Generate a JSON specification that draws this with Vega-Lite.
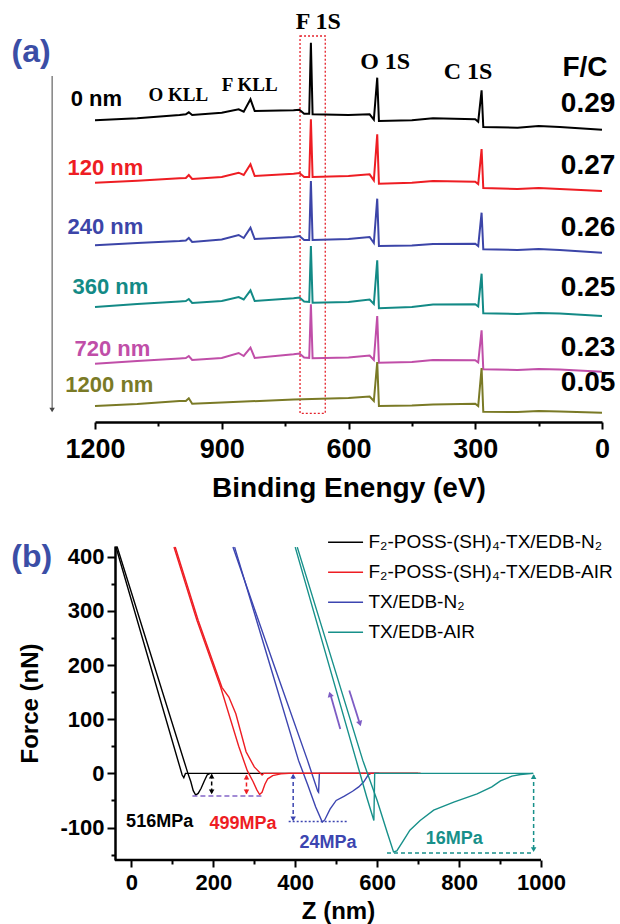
{
"$schema": "https://vega.github.io/schema/vega-lite/v6.json",
"padding": {"left": 11, "top": 9, "right": 2, "bottom": 2},
"background": "white",
"spacing": 31,
"config": {
  "view": {"stroke": null},
  "font": "Liberation Sans",
  "axis": {"grid": false, "domainColor": "#000", "tickColor": "#000", "labelColor": "#000", "titleColor": "#000", "labelFont": "Liberation Sans", "titleFont": "Liberation Sans", "labelFontWeight": "bold", "titleFontWeight": "bold", "domainWidth": 2.5, "tickWidth": 2, "labelOverlap": false, "labelFlush": false}
},
"resolve": {"scale": {"color": "independent"}, "legend": {"color": "independent"}},
"datasets": {
  "spectra": [
    {"d":"0 nm","E":1200,"I":301.7},{"d":"0 nm","E":1100,"I":303.7},{"d":"0 nm","E":1000,"I":307},{"d":"0 nm","E":985,"I":307.7},{"d":"0 nm","E":978,"I":309.7},{"d":"0 nm","E":970,"I":307},{"d":"0 nm","E":900,"I":309.3},{"d":"0 nm","E":860,"I":312.7},{"d":"0 nm","E":848,"I":310.3},{"d":"0 nm","E":832,"I":322.7},{"d":"0 nm","E":822,"I":311},{"d":"0 nm","E":730,"I":311.7},{"d":"0 nm","E":716,"I":312.3},{"d":"0 nm","E":705,"I":308.3},{"d":"0 nm","E":693,"I":308.3},{"d":"0 nm","E":689,"I":379.3},{"d":"0 nm","E":685,"I":307.7},{"d":"0 nm","E":600,"I":307},{"d":"0 nm","E":550,"I":307.7},{"d":"0 nm","E":540,"I":302.3},{"d":"0 nm","E":532,"I":344.3},{"d":"0 nm","E":528,"I":301},{"d":"0 nm","E":450,"I":301.7},{"d":"0 nm","E":400,"I":303.7},{"d":"0 nm","E":300,"I":302.7},{"d":"0 nm","E":293,"I":300.3},{"d":"0 nm","E":285,"I":331.7},{"d":"0 nm","E":281,"I":295},{"d":"0 nm","E":200,"I":294.3},{"d":"0 nm","E":150,"I":296},{"d":"0 nm","E":100,"I":295},{"d":"0 nm","E":0,"I":292.3},
    {"d":"120 nm","E":1200,"I":239.3},{"d":"120 nm","E":1100,"I":241.3},{"d":"120 nm","E":1000,"I":243.7},{"d":"120 nm","E":985,"I":244},{"d":"120 nm","E":978,"I":247},{"d":"120 nm","E":970,"I":243},{"d":"120 nm","E":900,"I":245},{"d":"120 nm","E":860,"I":249.3},{"d":"120 nm","E":848,"I":247},{"d":"120 nm","E":832,"I":257.7},{"d":"120 nm","E":822,"I":246},{"d":"120 nm","E":730,"I":248.3},{"d":"120 nm","E":716,"I":249},{"d":"120 nm","E":705,"I":245},{"d":"120 nm","E":693,"I":245},{"d":"120 nm","E":689,"I":302.7},{"d":"120 nm","E":685,"I":245},{"d":"120 nm","E":600,"I":246},{"d":"120 nm","E":550,"I":247.7},{"d":"120 nm","E":540,"I":241.7},{"d":"120 nm","E":532,"I":287.7},{"d":"120 nm","E":528,"I":238.3},{"d":"120 nm","E":450,"I":239.3},{"d":"120 nm","E":400,"I":241},{"d":"120 nm","E":300,"I":240.3},{"d":"120 nm","E":293,"I":238},{"d":"120 nm","E":285,"I":273},{"d":"120 nm","E":281,"I":234},{"d":"120 nm","E":200,"I":233},{"d":"120 nm","E":150,"I":234},{"d":"120 nm","E":100,"I":233},{"d":"120 nm","E":0,"I":231},
    {"d":"240 nm","E":1200,"I":176.7},{"d":"240 nm","E":1100,"I":179},{"d":"240 nm","E":1000,"I":181},{"d":"240 nm","E":985,"I":181.5},{"d":"240 nm","E":978,"I":184},{"d":"240 nm","E":970,"I":180},{"d":"240 nm","E":900,"I":182.5},{"d":"240 nm","E":860,"I":187},{"d":"240 nm","E":848,"I":184},{"d":"240 nm","E":832,"I":194.3},{"d":"240 nm","E":822,"I":183},{"d":"240 nm","E":730,"I":185},{"d":"240 nm","E":716,"I":186},{"d":"240 nm","E":705,"I":182},{"d":"240 nm","E":693,"I":182},{"d":"240 nm","E":689,"I":241},{"d":"240 nm","E":685,"I":182},{"d":"240 nm","E":600,"I":183},{"d":"240 nm","E":550,"I":185},{"d":"240 nm","E":540,"I":179},{"d":"240 nm","E":532,"I":223.3},{"d":"240 nm","E":528,"I":176},{"d":"240 nm","E":450,"I":176.5},{"d":"240 nm","E":400,"I":178},{"d":"240 nm","E":300,"I":178.3},{"d":"240 nm","E":293,"I":176},{"d":"240 nm","E":285,"I":209.3},{"d":"240 nm","E":281,"I":172.7},{"d":"240 nm","E":200,"I":172},{"d":"240 nm","E":150,"I":173},{"d":"240 nm","E":100,"I":172},{"d":"240 nm","E":0,"I":169.3},
    {"d":"360 nm","E":1200,"I":115},{"d":"360 nm","E":1100,"I":118},{"d":"360 nm","E":1000,"I":120.5},{"d":"360 nm","E":985,"I":121},{"d":"360 nm","E":978,"I":123},{"d":"360 nm","E":970,"I":119},{"d":"360 nm","E":900,"I":121},{"d":"360 nm","E":860,"I":125},{"d":"360 nm","E":848,"I":122.5},{"d":"360 nm","E":832,"I":131.7},{"d":"360 nm","E":822,"I":121},{"d":"360 nm","E":730,"I":123.7},{"d":"360 nm","E":716,"I":124.5},{"d":"360 nm","E":705,"I":120.5},{"d":"360 nm","E":693,"I":120},{"d":"360 nm","E":689,"I":176},{"d":"360 nm","E":685,"I":119.3},{"d":"360 nm","E":600,"I":120},{"d":"360 nm","E":550,"I":122.5},{"d":"360 nm","E":540,"I":118},{"d":"360 nm","E":532,"I":161.7},{"d":"360 nm","E":528,"I":113.7},{"d":"360 nm","E":450,"I":115},{"d":"360 nm","E":400,"I":117.5},{"d":"360 nm","E":300,"I":117.7},{"d":"360 nm","E":293,"I":115.5},{"d":"360 nm","E":285,"I":148.3},{"d":"360 nm","E":281,"I":108.7},{"d":"360 nm","E":200,"I":108},{"d":"360 nm","E":150,"I":109},{"d":"360 nm","E":100,"I":108.5},{"d":"360 nm","E":0,"I":106},
    {"d":"720 nm","E":1200,"I":58.3},{"d":"720 nm","E":1100,"I":61},{"d":"720 nm","E":1000,"I":63.5},{"d":"720 nm","E":985,"I":64},{"d":"720 nm","E":978,"I":66},{"d":"720 nm","E":970,"I":62},{"d":"720 nm","E":900,"I":64},{"d":"720 nm","E":860,"I":69},{"d":"720 nm","E":848,"I":66},{"d":"720 nm","E":832,"I":74.3},{"d":"720 nm","E":822,"I":64},{"d":"720 nm","E":730,"I":67.7},{"d":"720 nm","E":716,"I":68.5},{"d":"720 nm","E":705,"I":64.5},{"d":"720 nm","E":693,"I":64},{"d":"720 nm","E":689,"I":117.7},{"d":"720 nm","E":685,"I":63.7},{"d":"720 nm","E":600,"I":64.5},{"d":"720 nm","E":550,"I":66.5},{"d":"720 nm","E":540,"I":62},{"d":"720 nm","E":532,"I":106},{"d":"720 nm","E":528,"I":59.3},{"d":"720 nm","E":450,"I":60},{"d":"720 nm","E":400,"I":62},{"d":"720 nm","E":300,"I":61.7},{"d":"720 nm","E":293,"I":59.5},{"d":"720 nm","E":285,"I":91.7},{"d":"720 nm","E":281,"I":52.7},{"d":"720 nm","E":200,"I":52},{"d":"720 nm","E":150,"I":53},{"d":"720 nm","E":100,"I":52.5},{"d":"720 nm","E":0,"I":50.3},
    {"d":"1200 nm","E":1200,"I":16},{"d":"1200 nm","E":1100,"I":18},{"d":"1200 nm","E":1000,"I":21},{"d":"1200 nm","E":985,"I":21},{"d":"1200 nm","E":978,"I":23.7},{"d":"1200 nm","E":970,"I":18.3},{"d":"1200 nm","E":900,"I":19.5},{"d":"1200 nm","E":730,"I":22.5},{"d":"1200 nm","E":600,"I":24},{"d":"1200 nm","E":550,"I":25.5},{"d":"1200 nm","E":540,"I":21},{"d":"1200 nm","E":532,"I":60},{"d":"1200 nm","E":528,"I":16},{"d":"1200 nm","E":450,"I":16.5},{"d":"1200 nm","E":400,"I":17.5},{"d":"1200 nm","E":300,"I":18.3},{"d":"1200 nm","E":293,"I":16},{"d":"1200 nm","E":285,"I":54},{"d":"1200 nm","E":281,"I":10.3},{"d":"1200 nm","E":200,"I":10},{"d":"1200 nm","E":150,"I":11},{"d":"1200 nm","E":100,"I":10.5},{"d":"1200 nm","E":0,"I":9.3}
  ],
  "aDepth": [
    {"d":"0 nm","E":1196.7,"I":323.5},{"d":"120 nm","E":1175.4,"I":254.3},{"d":"240 nm","E":1175.4,"I":195},{"d":"360 nm","E":1163.6,"I":135.3},{"d":"720 nm","E":1158.8,"I":72.7},{"d":"1200 nm","E":1166,"I":37}
  ],
  "aPeaks": [{"t":"F 1S","E":671.7,"I":400},{"t":"O 1S","E":513.2,"I":360},{"t":"C 1S","E":316.9,"I":350}],
  "aKLL": [{"t":"O KLL","E":1002.8,"I":327},{"t":"F KLL","E":833.7,"I":337}],
  "aFC": [{"t":"F/C","E":40.2,"I":354},{"t":"0.29","E":33,"I":318},{"t":"0.27","E":33,"I":256},{"t":"0.26","E":33,"I":194.3},{"t":"0.25","E":33,"I":134},{"t":"0.23","E":33,"I":73.7},{"t":"0.05","E":33,"I":39.3}],
  "aTag": [{"t":"(a)","E":1397.7,"I":370}],
  "aBox": [{"E":714.7,"E2":655,"I":8.7,"I2":386}],
  "aArrow": [{"E":1301.5,"I":346,"I2":14}],
  "aArrowHead": [{"E":1301.5,"I":12}],
  "curves": [
    {"s":"F₂-POSS-(SH)₄-TX/EDB-N₂","b":"app","z":-38,"f":419},{"s":"F₂-POSS-(SH)₄-TX/EDB-N₂","b":"app","z":124,"f":-3},{"s":"F₂-POSS-(SH)₄-TX/EDB-N₂","b":"app","z":128,"f":-8},{"s":"F₂-POSS-(SH)₄-TX/EDB-N₂","b":"app","z":132,"f":0},{"s":"F₂-POSS-(SH)₄-TX/EDB-N₂","b":"app","z":700,"f":0},
    {"s":"F₂-POSS-(SH)₄-TX/EDB-N₂","b":"ret","z":-35,"f":419},{"s":"F₂-POSS-(SH)₄-TX/EDB-N₂","b":"ret","z":138,"f":0},{"s":"F₂-POSS-(SH)₄-TX/EDB-N₂","b":"ret","z":145,"f":-15},{"s":"F₂-POSS-(SH)₄-TX/EDB-N₂","b":"ret","z":151,"f":-32},{"s":"F₂-POSS-(SH)₄-TX/EDB-N₂","b":"ret","z":157,"f":-40},{"s":"F₂-POSS-(SH)₄-TX/EDB-N₂","b":"ret","z":163,"f":-37},{"s":"F₂-POSS-(SH)₄-TX/EDB-N₂","b":"ret","z":170,"f":-28},{"s":"F₂-POSS-(SH)₄-TX/EDB-N₂","b":"ret","z":178,"f":-14},{"s":"F₂-POSS-(SH)₄-TX/EDB-N₂","b":"ret","z":185,"f":-3},{"s":"F₂-POSS-(SH)₄-TX/EDB-N₂","b":"ret","z":192,"f":0},
    {"s":"TX/EDB-N₂","b":"app","z":248,"f":418},{"s":"TX/EDB-N₂","b":"app","z":350,"f":196},{"s":"TX/EDB-N₂","b":"app","z":430,"f":24},{"s":"TX/EDB-N₂","b":"app","z":455,"f":-33},{"s":"TX/EDB-N₂","b":"app","z":457,"f":-35},{"s":"TX/EDB-N₂","b":"app","z":459,"f":0},{"s":"TX/EDB-N₂","b":"app","z":605,"f":0},
    {"s":"TX/EDB-N₂","b":"ret","z":252,"f":418},{"s":"TX/EDB-N₂","b":"ret","z":340,"f":196},{"s":"TX/EDB-N₂","b":"ret","z":408,"f":24},{"s":"TX/EDB-N₂","b":"ret","z":430,"f":-20},{"s":"TX/EDB-N₂","b":"ret","z":450,"f":-62},{"s":"TX/EDB-N₂","b":"ret","z":466,"f":-90},{"s":"TX/EDB-N₂","b":"ret","z":472,"f":-86},{"s":"TX/EDB-N₂","b":"ret","z":485,"f":-66},{"s":"TX/EDB-N₂","b":"ret","z":500,"f":-50},{"s":"TX/EDB-N₂","b":"ret","z":520,"f":-42},{"s":"TX/EDB-N₂","b":"ret","z":540,"f":-33},{"s":"TX/EDB-N₂","b":"ret","z":555,"f":-25},{"s":"TX/EDB-N₂","b":"ret","z":567,"f":-16},{"s":"TX/EDB-N₂","b":"ret","z":578,"f":-3},{"s":"TX/EDB-N₂","b":"ret","z":585,"f":0},{"s":"TX/EDB-N₂","b":"ret","z":605,"f":0},
    {"s":"F₂-POSS-(SH)₄-TX/EDB-AIR","b":"app","z":107,"f":418},{"s":"F₂-POSS-(SH)₄-TX/EDB-AIR","b":"app","z":163,"f":283},{"s":"F₂-POSS-(SH)₄-TX/EDB-AIR","b":"app","z":221,"f":159},{"s":"F₂-POSS-(SH)₄-TX/EDB-AIR","b":"app","z":238,"f":141},{"s":"F₂-POSS-(SH)₄-TX/EDB-AIR","b":"app","z":255,"f":110},{"s":"F₂-POSS-(SH)₄-TX/EDB-AIR","b":"app","z":280,"f":40},{"s":"F₂-POSS-(SH)₄-TX/EDB-AIR","b":"app","z":300,"f":12},{"s":"F₂-POSS-(SH)₄-TX/EDB-AIR","b":"app","z":319,"f":-3},{"s":"F₂-POSS-(SH)₄-TX/EDB-AIR","b":"app","z":323,"f":0},{"s":"F₂-POSS-(SH)₄-TX/EDB-AIR","b":"app","z":706,"f":0},
    {"s":"F₂-POSS-(SH)₄-TX/EDB-AIR","b":"ret","z":104,"f":418},{"s":"F₂-POSS-(SH)₄-TX/EDB-AIR","b":"ret","z":160,"f":283},{"s":"F₂-POSS-(SH)₄-TX/EDB-AIR","b":"ret","z":218,"f":159},{"s":"F₂-POSS-(SH)₄-TX/EDB-AIR","b":"ret","z":262,"f":50},{"s":"F₂-POSS-(SH)₄-TX/EDB-AIR","b":"ret","z":283,"f":5},{"s":"F₂-POSS-(SH)₄-TX/EDB-AIR","b":"ret","z":297,"f":-15},{"s":"F₂-POSS-(SH)₄-TX/EDB-AIR","b":"ret","z":306,"f":-30},{"s":"F₂-POSS-(SH)₄-TX/EDB-AIR","b":"ret","z":313,"f":-39},{"s":"F₂-POSS-(SH)₄-TX/EDB-AIR","b":"ret","z":319,"f":-35},{"s":"F₂-POSS-(SH)₄-TX/EDB-AIR","b":"ret","z":326,"f":-20},{"s":"F₂-POSS-(SH)₄-TX/EDB-AIR","b":"ret","z":333,"f":-10},{"s":"F₂-POSS-(SH)₄-TX/EDB-AIR","b":"ret","z":345,"f":-4},{"s":"F₂-POSS-(SH)₄-TX/EDB-AIR","b":"ret","z":365,"f":-1},{"s":"F₂-POSS-(SH)₄-TX/EDB-AIR","b":"ret","z":385,"f":0},{"s":"F₂-POSS-(SH)₄-TX/EDB-AIR","b":"ret","z":706,"f":0},
    {"s":"TX/EDB-AIR","b":"app","z":400,"f":418},{"s":"TX/EDB-AIR","b":"app","z":549,"f":24},{"s":"TX/EDB-AIR","b":"app","z":575,"f":-45},{"s":"TX/EDB-AIR","b":"app","z":592,"f":-87},{"s":"TX/EDB-AIR","b":"app","z":594,"f":0},{"s":"TX/EDB-AIR","b":"app","z":981,"f":0},
    {"s":"TX/EDB-AIR","b":"ret","z":405,"f":418},{"s":"TX/EDB-AIR","b":"ret","z":565,"f":24},{"s":"TX/EDB-AIR","b":"ret","z":600,"f":-50},{"s":"TX/EDB-AIR","b":"ret","z":625,"f":-110},{"s":"TX/EDB-AIR","b":"ret","z":640,"f":-145},{"s":"TX/EDB-AIR","b":"ret","z":648,"f":-143},{"s":"TX/EDB-AIR","b":"ret","z":664,"f":-124},{"s":"TX/EDB-AIR","b":"ret","z":680,"f":-105},{"s":"TX/EDB-AIR","b":"ret","z":705,"f":-87},{"s":"TX/EDB-AIR","b":"ret","z":738,"f":-68},{"s":"TX/EDB-AIR","b":"ret","z":787,"f":-53},{"s":"TX/EDB-AIR","b":"ret","z":844,"f":-38},{"s":"TX/EDB-AIR","b":"ret","z":880,"f":-25},{"s":"TX/EDB-AIR","b":"ret","z":901,"f":-14},{"s":"TX/EDB-AIR","b":"ret","z":929,"f":-5},{"s":"TX/EDB-AIR","b":"ret","z":950,"f":-2},{"s":"TX/EDB-AIR","b":"ret","z":981,"f":0}
  ],
  "bLegendLines": [
    {"s":"F₂-POSS-(SH)₄-TX/EDB-N₂","z":480.2,"z2":565.6,"f":427.1},
    {"s":"F₂-POSS-(SH)₄-TX/EDB-AIR","z":480.2,"z2":565.6,"f":371.7},
    {"s":"TX/EDB-N₂","z":480.2,"z2":565.6,"f":316.3},
    {"s":"TX/EDB-AIR","z":480.2,"z2":565.6,"f":260.8}
  ],
  "bLegendText": [
    {"s":"F₂-POSS-(SH)₄-TX/EDB-N₂","z":578.8,"f":427.1},
    {"s":"F₂-POSS-(SH)₄-TX/EDB-AIR","z":578.8,"f":371.7},
    {"s":"TX/EDB-N₂","z":578.8,"f":316.3},
    {"s":"TX/EDB-AIR","z":578.8,"f":260.8}
  ],
  "bFrame": [{"z":-40,"z2":1000,"f":-160}],
  "bDash": [
    {"s":"F₂-POSS-(SH)₄-TX/EDB-N₂","z":196,"f":-2,"z2":196,"f2":-37},
    {"s":"F₂-POSS-(SH)₄-TX/EDB-AIR","z":281,"f":-4,"z2":281,"f2":-37},
    {"s":"TX/EDB-N₂","z":395,"f":-3,"z2":395,"f2":-86},
    {"s":"TX/EDB-AIR","z":982,"f":-3,"z2":982,"f2":-143},
    {"s":"TX/EDB-AIR","z":624,"f":-147,"z2":982,"f2":-147}
  ],
  "bDot": [{"s":"TX/EDB-N₂","z":384,"f":-89,"z2":527,"f2":-89}],
  "bPurpleDash": [{"z":149,"f":-42,"z2":323,"f2":-42}],
  "bPurpleShaft": [{"z":510,"f":82,"z2":487,"f2":143},{"z":532,"f":153,"z2":556,"f2":96}],
  "bPurpleUL": [{"z":485,"f":146}],
  "bPurpleDR": [{"z":558,"f":92}],
  "bHeadUp": [
    {"s":"F₂-POSS-(SH)₄-TX/EDB-N₂","z":196,"f":-5},
    {"s":"F₂-POSS-(SH)₄-TX/EDB-AIR","z":281,"f":-7},
    {"s":"TX/EDB-N₂","z":395,"f":-5},
    {"s":"TX/EDB-AIR","z":982,"f":-6}
  ],
  "bHeadDown": [
    {"s":"F₂-POSS-(SH)₄-TX/EDB-N₂","z":196,"f":-34},
    {"s":"F₂-POSS-(SH)₄-TX/EDB-AIR","z":281,"f":-34},
    {"s":"TX/EDB-N₂","z":395,"f":-84},
    {"s":"TX/EDB-AIR","z":982,"f":-141}
  ],
  "bTexts": [
    {"s":"F₂-POSS-(SH)₄-TX/EDB-N₂","t":"516MPa","z":69,"f":-90.5},
    {"s":"F₂-POSS-(SH)₄-TX/EDB-AIR","t":"499MPa","z":272.7,"f":-93},
    {"s":"TX/EDB-N₂","t":"24MPa","z":480,"f":-128.7},
    {"s":"TX/EDB-AIR","t":"16MPa","z":788.5,"f":-122}
  ],
  "bTag": [{"t":"(b)","z":-293,"f":399.5}]
},
"vconcat": [
  {
    "width": 507,
    "height": 401,
    "encoding": {
      "x": {"field": "E", "type": "quantitative", "scale": {"domain": [0, 1200], "reverse": true, "nice": false, "zero": false},
        "axis": {"values": [1200,1050,900,750,600,450,300,150,0], "labelExpr": "datum.value % 300 === 0 ? '' + datum.value : ''",
          "tickSize": {"condition": {"test": "datum.value % 300 === 0", "value": 7}, "value": 4},
          "labelFontSize": 27, "labelPadding": 7, "title": "Binding Enengy (eV)", "titleFontSize": 28, "titlePadding": 12}},
      "y": {"field": "I", "type": "quantitative", "scale": {"domain": [0, 401], "nice": false, "zero": false}, "axis": null}
    },
    "layer": [
      {"data": {"name": "aBox"}, "mark": {"type": "rect", "filled": false, "color": "#e5212b", "strokeDash": [2, 2], "strokeWidth": 1.3},
       "encoding": {"x2": {"field": "E2"}, "y2": {"field": "I2"}}},
      {"data": {"name": "spectra"}, "mark": {"type": "line", "strokeWidth": 2},
       "encoding": {"color": {"field": "d", "type": "nominal", "scale": {"domain": ["0 nm","120 nm","240 nm","360 nm","720 nm","1200 nm"], "range": ["#000000","#ee1d23","#3c45a8","#138a86","#c04ea8","#7a7a26"]}, "legend": null}}},
      {"data": {"name": "aArrow"}, "mark": {"type": "rule", "color": "#444", "strokeWidth": 1},
       "encoding": {"y2": {"field": "I2"}}},
      {"data": {"name": "aArrowHead"}, "mark": {"type": "point", "shape": "triangle-down", "filled": true, "size": 30, "color": "#444", "opacity": 1},
       "encoding": {}},
      {"data": {"name": "aPeaks"}, "mark": {"type": "text", "font": "Liberation Serif", "fontWeight": "bold", "fontSize": 24, "color": "#000"},
       "encoding": {"text": {"field": "t"}}},
      {"data": {"name": "aKLL"}, "mark": {"type": "text", "font": "Liberation Serif", "fontWeight": "bold", "fontSize": 19, "color": "#000"},
       "encoding": {"text": {"field": "t"}}},
      {"data": {"name": "aFC"}, "mark": {"type": "text", "font": "Liberation Sans", "fontWeight": "bold", "fontSize": 28, "color": "#000"},
       "encoding": {"text": {"field": "t"}}},
      {"data": {"name": "aDepth"}, "mark": {"type": "text", "font": "Liberation Sans", "fontWeight": "bold", "fontSize": 22},
       "encoding": {"text": {"field": "d"}, "color": {"field": "d", "type": "nominal", "legend": null}}},
      {"data": {"name": "aTag"}, "mark": {"type": "text", "font": "Liberation Sans", "fontWeight": "bold", "fontSize": 32, "align": "left", "color": "#3b4ea6"},
       "encoding": {"text": {"field": "t"}}}
    ]
  },
  {
    "width": 446,
    "height": 314,
    "encoding": {
      "x": {"field": "z", "type": "quantitative", "scale": {"domain": [-88.8, 1000], "nice": false, "zero": false},
        "axis": {"values": [0,100,200,300,400,500,600,700,800,900,1000], "labelExpr": "datum.value % 200 === 0 ? '' + datum.value : ''",
          "tickSize": {"condition": {"test": "datum.value % 200 === 0", "value": 7}, "value": 4}, "domain": false,
          "labelFontSize": 22, "labelPadding": 5, "title": "Z (nm)", "titleFontSize": 24, "titlePadding": 6, "titleX": 243}},
      "y": {"field": "f", "type": "quantitative", "scale": {"domain": [-160, 420], "nice": false, "zero": false},
        "axis": {"values": [400,350,300,250,200,150,100,50,0,-50,-100,-150], "labelExpr": "datum.value % 100 === 0 ? '' + datum.value : ''",
          "tickSize": {"condition": {"test": "datum.value % 100 === 0", "value": 8}, "value": 4}, "offset": -20,
          "labelFontSize": 22, "labelPadding": 3, "title": "Force (nN)", "titleFontSize": 24, "titlePadding": 17}}
    },
    "layer": [
      {"data": {"name": "bFrame"}, "mark": {"type": "rule", "strokeWidth": 2.5, "color": "#000"},
       "encoding": {"x2": {"field": "z2"}}},
      {"data": {"name": "curves"}, "mark": {"type": "line", "strokeWidth": 1.4},
       "encoding": {
         "color": {"field": "s", "type": "nominal",
           "scale": {"domain": ["F₂-POSS-(SH)₄-TX/EDB-N₂","F₂-POSS-(SH)₄-TX/EDB-AIR","TX/EDB-N₂","TX/EDB-AIR"], "range": ["#000000","#ee1d23","#3c45b0","#17908a"]},
           "legend": null},
         "detail": {"field": "b"}}},
      {"data": {"name": "bLegendLines"}, "mark": {"type": "rule", "strokeWidth": 1.5},
       "encoding": {"x2": {"field": "z2"}, "color": {"field": "s", "type": "nominal", "legend": null}}},
      {"data": {"name": "bLegendText"}, "mark": {"type": "text", "font": "Liberation Sans", "fontSize": 19, "align": "left", "color": "#000"},
       "encoding": {"text": {"field": "s"}}},
      {"data": {"name": "bDash"}, "mark": {"type": "rule", "strokeDash": [4, 3], "strokeWidth": 1.5},
       "encoding": {"x2": {"field": "z2"}, "y2": {"field": "f2"}, "color": {"field": "s", "type": "nominal", "legend": null}}},
      {"data": {"name": "bDot"}, "mark": {"type": "rule", "strokeDash": [2, 2], "strokeWidth": 1.5},
       "encoding": {"x2": {"field": "z2"}, "y2": {"field": "f2"}, "color": {"field": "s", "type": "nominal", "legend": null}}},
      {"data": {"name": "bPurpleDash"}, "mark": {"type": "rule", "strokeDash": [5, 3], "strokeWidth": 1.5, "color": "#8466c8"},
       "encoding": {"x2": {"field": "z2"}, "y2": {"field": "f2"}}},
      {"data": {"name": "bPurpleShaft"}, "mark": {"type": "rule", "strokeWidth": 1.8, "color": "#7d5cc4"},
       "encoding": {"x2": {"field": "z2"}, "y2": {"field": "f2"}}},
      {"data": {"name": "bPurpleUL"}, "mark": {"type": "point", "shape": "triangle-up", "filled": true, "size": 40, "angle": 344, "color": "#7d5cc4", "opacity": 1},
       "encoding": {}},
      {"data": {"name": "bPurpleDR"}, "mark": {"type": "point", "shape": "triangle-up", "filled": true, "size": 40, "angle": 163, "color": "#7d5cc4", "opacity": 1},
       "encoding": {}},
      {"data": {"name": "bHeadUp"}, "mark": {"type": "point", "shape": "triangle-up", "filled": true, "size": 30, "opacity": 1},
       "encoding": {"color": {"field": "s", "type": "nominal", "legend": null}}},
      {"data": {"name": "bHeadDown"}, "mark": {"type": "point", "shape": "triangle-down", "filled": true, "size": 30, "opacity": 1},
       "encoding": {"color": {"field": "s", "type": "nominal", "legend": null}}},
      {"data": {"name": "bTexts"}, "mark": {"type": "text", "font": "Liberation Sans", "fontWeight": "bold", "fontSize": 18},
       "encoding": {"text": {"field": "t"}, "color": {"field": "s", "type": "nominal", "legend": null}}},
      {"data": {"name": "bTag"}, "mark": {"type": "text", "font": "Liberation Sans", "fontWeight": "bold", "fontSize": 32, "align": "left", "color": "#3b4ea6"},
       "encoding": {"text": {"field": "t"}}}
    ]
  }
]
}
